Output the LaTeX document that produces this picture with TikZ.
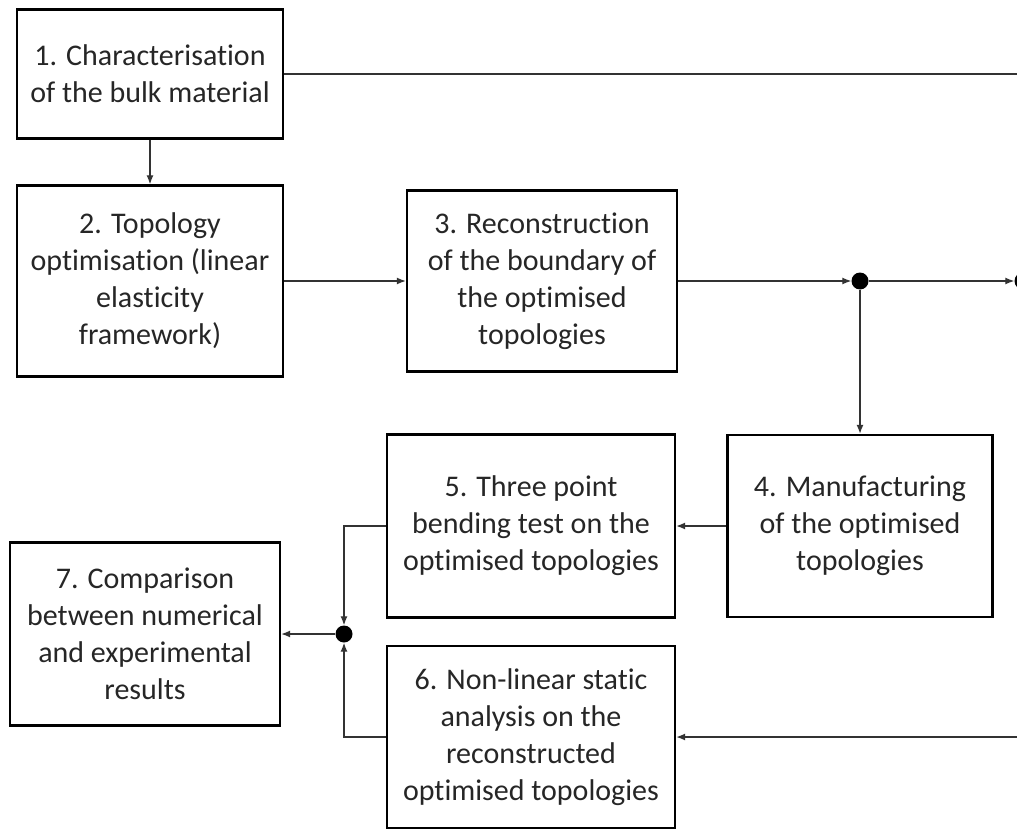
\documentclass[tikz,border=0pt]{standalone}
\usepackage{fontspec}
\setmainfont{Carlito}[Ligatures={NoCommon}]
\usetikzlibrary{arrows.meta}

\begin{document}
\begin{tikzpicture}[x=1pt,y=-1pt]
\tikzstyle{box}=[rectangle,draw,line width=2.4pt,align=center,inner sep=0pt,text=black!85,font=\fontsize{30}{37}\selectfont]
\tikzstyle{op}=[-{Latex[length=9pt,width=7pt]},line width=1.3pt,draw=black!80]
\tikzstyle{dot}=[circle,fill,inner sep=0pt,minimum size=17pt]
\clip (0,0) rectangle (1017,829);

\node (1) at (150,74) [box,minimum width=266pt,minimum height=129pt]{1. Characterisation\\of the bulk material};
\node (2) at (150,281) [box,minimum width=266pt,minimum height=191pt]{2. Topology\\optimisation (linear\\elasticity\\framework)};
\node (3) at (542,281) [box,minimum width=270pt,minimum height=181pt]{3. Reconstruction\\of the boundary of\\the optimised\\topologies};
\node (4) at (860,526) [box,minimum width=265pt,minimum height=182pt]{4. Manufacturing\\of the optimised\\topologies};
\node (5) at (531,526) [box,minimum width=288pt,minimum height=183pt]{5. Three point\\bending test on the\\optimised topologies};
\node (6) at (531,737) [box,minimum width=288pt,minimum height=182pt]{6. Non-linear static\\analysis on the\\reconstructed\\optimised topologies};
\node (7) at (145,634) [box,minimum width=270pt,minimum height=183pt]{7. Comparison\\between numerical\\and experimental\\results};

\node (d1) at (860,281) [dot]{};
\node (d2) at (344,634) [dot]{};
\node (d3) at (1023,281) [dot]{};
\coordinate (t1) at (1017,74);
\coordinate (t6) at (1017,737);

\draw[line width=1.3pt,draw=black!80] (1) -- (t1);
\draw[op] (1) -- (2);
\draw[op] (2) -- (3);
\draw[op] (3) -- (d1);
\draw[op] (d1) -- (d3);
\draw[op] (d1) -- (4);
\draw[op] (4) -- (5);
\draw[op] (5) -| (d2);
\draw[op] (6) -| (d2);
\draw[op] (d2) -- (7);
\draw[op] (t6) -- (6);
\end{tikzpicture}
\end{document}
